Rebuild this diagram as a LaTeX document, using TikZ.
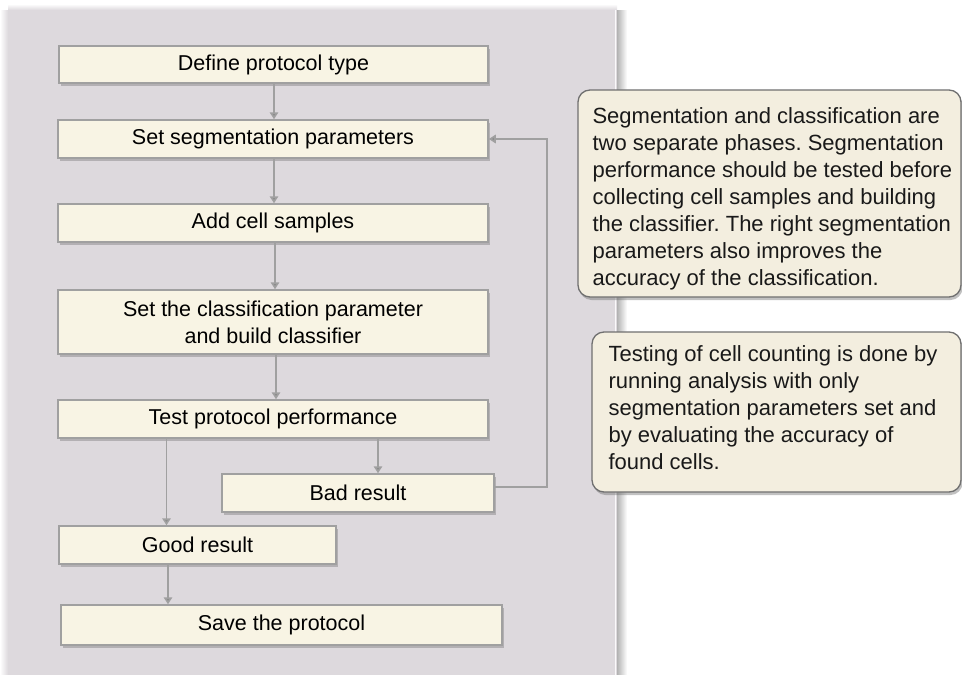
\documentclass[tikz,border=0pt]{standalone}
\usepackage{fontspec}
\setmainfont{Liberation Sans}
\usetikzlibrary{calc,shadows,arrows.meta}
\frenchspacing

\definecolor{panelgray}{RGB}{221,217,221}
\definecolor{boxcream}{RGB}{248,244,228}
\definecolor{boxedge}{RGB}{160,160,160}
\definecolor{notecream}{RGB}{243,238,223}
\definecolor{noteedge}{RGB}{112,112,112}
\definecolor{tipgray}{RGB}{140,140,140}

\tikzset{
  stepbox/.style={draw=boxedge, line width=1.5pt, fill=boxcream, inner sep=0pt,
    align=center, font={\fontsize{21.5}{27}\selectfont},
    drop shadow={shadow xshift=2pt, shadow yshift=-2.5pt, opacity=0.35, fill=black!60}},
  flow/.style={draw=boxedge, line width=1.6pt, -{Triangle[width=8.5pt,length=7pt,fill=tipgray]}},
  notebox/.style={draw=noteedge, line width=1.3pt, fill=notecream, rounded corners=12pt,
    inner sep=0pt,
    drop shadow={shadow xshift=1.5pt, shadow yshift=-3pt, opacity=0.4, fill=black!60}},
  notetext/.style={inner sep=0pt, align=left, anchor=north west, text=black!90,
    font={\fontsize{22}{27}\selectfont}}
}

\begin{document}
\begin{tikzpicture}[x=1pt,y=-1pt]

\useasboundingbox (0,0) rectangle (962,675);
\fill[white] (0,0) rectangle (962,675);

% grey panel behind the flow chart
\shade[left color=white, right color=panelgray] (0,10) rectangle (8,675);
\shade[top color=white, bottom color=panelgray] (8,4) rectangle (617,10);
\fill[panelgray] (8,10) rectangle (617,675);
\draw[white!85!panelgray, line width=1pt] (615.5,10) -- (615.5,675);
\shade[left color=black!30, right color=white] (617,10) rectangle (627,675);

\node[stepbox, minimum width=429pt, minimum height=37pt] (define) at (273.5,64.5) {Define protocol type};
\node[stepbox, minimum width=430pt, minimum height=38pt] (setseg) at (273,139) {Set segmentation parameters};
\node[stepbox, minimum width=430pt, minimum height=38pt] (addcell) at (273,223) {Add cell samples};
\node[stepbox, minimum width=430pt, minimum height=64pt] (classif) at (273,322) {Set the classification parameter\\and build classifier};
\node[stepbox, minimum width=430pt, minimum height=38pt] (testperf) at (273,419) {Test protocol performance};
\node[stepbox, minimum width=272pt, minimum height=38pt] (bad) at (358,493) {Bad result};
\node[stepbox, minimum width=277pt, minimum height=38pt] (good) at (197.5,545) {Good result};
\node[stepbox, minimum width=441pt, minimum height=40pt] (save) at (281.5,625) {Save the protocol};

\draw[flow] ([xshift=0.5pt]define.south) -- ([xshift=0.5pt]define.south |- setseg.north);
\draw[flow] ([xshift=1pt]setseg.south) -- ([xshift=1pt]setseg.south |- addcell.north);
\draw[flow] ([xshift=2pt]addcell.south) -- ([xshift=2pt]addcell.south |- classif.north);
\draw[flow] ([xshift=3pt]classif.south) -- ([xshift=3pt]classif.south |- testperf.north);
\draw[flow] ([xshift=20pt]bad.north |- testperf.south) -- ([xshift=20pt]bad.north);
\draw[flow] ([xshift=-31pt]good.north |- testperf.south) -- ([xshift=-31pt]good.north);
\draw[flow] ([xshift=-29.5pt]good.south) -- ([xshift=-29.5pt]good.south |- save.north);

% loop back from a bad result
\coordinate (back) at (547,0);
\draw[flow] ([yshift=6pt]bad.east) -| (back |- setseg.east) -- (setseg.east);

% notes on the right
\node[notebox, minimum width=383pt, minimum height=207pt] (callone) at (769.5,193.5) {};
\node[notetext] (onetext) at ($(callone.north west)+(15,18.5)$)
  {Segmentation and classification are\\two separate phases. Segmentation\\performance should be tested before\\collecting cell samples and building\\the classifier. The right segmentation\\parameters also improves the\\accuracy of the classification.};

\node[notebox, minimum width=369pt, minimum height=160pt] (calltwo) at (776.5,412) {};
\node[notetext] (twotext) at ($(calltwo.north west)+(17,14.5)$)
  {Testing of cell counting is done by\\running analysis with only\\segmentation parameters set and\\by evaluating the accuracy of\\found cells.};

\end{tikzpicture}
\end{document}
